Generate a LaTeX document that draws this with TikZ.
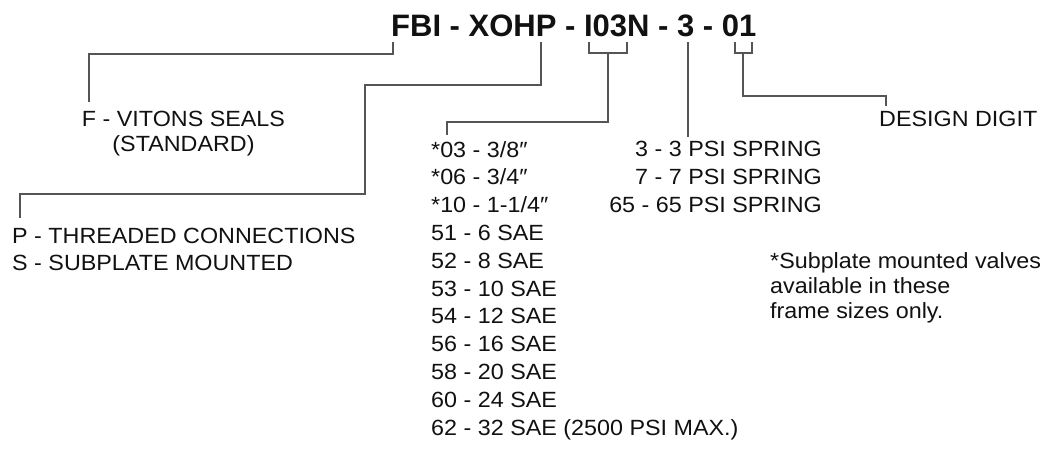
\documentclass[tikz,border=0pt]{standalone}
\usepackage{fontspec}
\setmainfont{Liberation Sans}
\newfontfamily\widesans{Liberation Sans}[FakeStretch=1.06]
\usepackage{tikz}
\usetikzlibrary{positioning,calc}
\definecolor{ink}{HTML}{111111}
\definecolor{leadgray}{HTML}{555555}

\begin{document}
\begin{tikzpicture}[
  x=1pt,y=-1pt,
  txt/.style={inner sep=0pt,text=ink,font=\widesans\fontsize{22}{27.8}\selectfont},
  codetxt/.style={inner sep=0pt,text=ink,font=\fontsize{31}{36}\selectfont\bfseries},
  lead/.style={draw=leadgray,line width=1.3pt}
]
\useasboundingbox (0,0) rectangle (1044,449);
% model code
\node[codetxt,anchor=base west] (code) at (391,37) {FBI - XOHP - I03N - 3 - 01};
% option texts (base = last line)
\node[txt,anchor=base,align=center,font=\widesans\fontsize{22}{25}\selectfont] (fseal) at (183.5,152) {F - VITONS SEALS\\(STANDARD)};
\node[txt,anchor=base west,align=left,font=\widesans\fontsize{22}{27}\selectfont] (pconn) at (12,270) {P - THREADED CONNECTIONS\\S - SUBPLATE MOUNTED};
\node[txt,anchor=base west,align=left] (sizes) at (431,435) {*03 - 3/8″\\*06 - 3/4″\\*10 - 1-1/4″\\51 - 6 SAE\\52 - 8 SAE\\53 - 10 SAE\\54 - 12 SAE\\56 - 16 SAE\\58 - 20 SAE\\60 - 24 SAE\\62 - 32 SAE (2500 PSI MAX.)};
\node[txt,anchor=base east,align=right] (springs) at (822,212.6) {3 - 3 PSI SPRING\\7 - 7 PSI SPRING\\65 - 65 PSI SPRING};
\node[txt,anchor=base west] (design) at (879,127) {DESIGN DIGIT};
\node[txt,anchor=base west,align=left,font=\widesans\fontsize{22}{25}\selectfont] (note) at (770,318) {*Subplate mounted valves\\available in these\\frame sizes only.};
% tap points under the code
\coordinate (tapF) at (393,42);
\coordinate (tapP) at (541,42);
\coordinate (brL) at (589,42);
\coordinate (brR) at (627,42);
\coordinate (tapS) at (688,42);
\coordinate (dgL) at (735,42);
\coordinate (dgR) at (752,42);
% free ends above the texts
\coordinate (endF) at (89,102);
\coordinate (bendP) at (365,194);
\coordinate (endP) at (20,218);
\coordinate (endN) at (447,135);
\coordinate (endS) at (688,137);
\coordinate (endD) at (886,106);
% leaders
\draw[lead] (tapF) -- ++(0,12) -| (endF);
\draw[lead] (tapP) -- ++(0,43) -| (bendP) -| (endP);
\draw[lead] (brL) |- (brR |- 0,53) -- (brR);
\draw[lead] (608,53) -- (608,122) -| (endN);
\draw[lead] (tapS) -- (endS);
\draw[lead] (dgL) |- (dgR |- 0,53) -- (dgR);
\draw[lead] (743,53) -- (743,96) -| (endD);
\end{tikzpicture}
\end{document}
